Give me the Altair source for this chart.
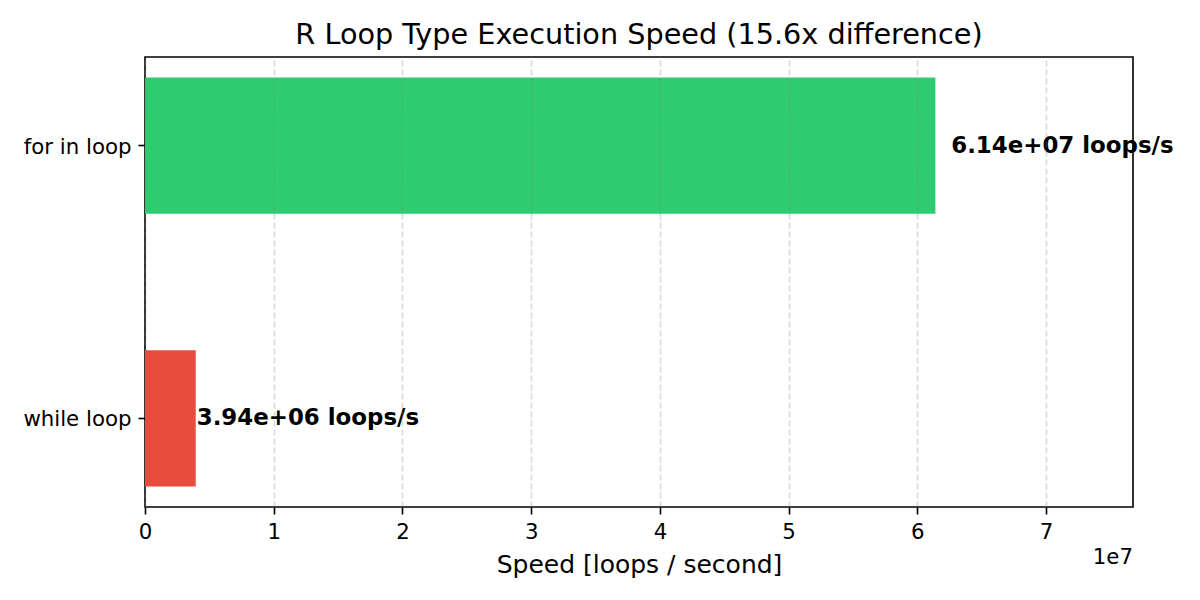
import altair as alt
import pandas as pd

categories = ["for in loop", "while loop"]
speeds = [6.14e7, 3.94e6]
labels = ["6.14e+07 loops/s", "3.94e+06 loops/s"]
colors = ["#2ecc71", "#e74c3c"]
x_ticks = [0, 1e7, 2e7, 3e7, 4e7, 5e7, 6e7, 7e7]
x_max = 7.675e7

df = pd.DataFrame({"loop": categories, "speed": speeds, "label": labels, "color": colors})

W, H = 988, 450
FONT = "DejaVu Sans"

y_enc = alt.Y("loop:N", sort=categories,
              scale=alt.Scale(paddingInner=0.5, paddingOuter=0.075),
              axis=alt.Axis(title=None, labelFontSize=21.3, labelPadding=7, tickSize=7,
                            tickWidth=1.6, tickColor="black", domain=False, grid=False,
                            labelColor="black", labelFont=FONT, labelOffset=2))

x_scale = alt.Scale(domain=[0, x_max], nice=False, zero=True)

bars = alt.Chart(df).mark_bar().encode(
    x=alt.X("speed:Q", scale=x_scale,
            axis=alt.Axis(title="Speed [loops / second]", values=x_ticks,
                          labelExpr="format(datum.value / 1e7, 'd')",
                          labelFontSize=21.3, titleFontSize=25, titleFontWeight="normal",
                          titlePadding=10, labelPadding=7, tickSize=7, tickWidth=1.6,
                          tickColor="black", domain=False, labelColor="black",
                          titleColor="black", labelFont=FONT, titleFont=FONT,
                          labelFlush=False,
                          grid=True, gridColor="#808080", gridOpacity=0.3,
                          gridDash=[6, 3], gridWidth=1.6, zindex=1)),
    y=y_enc,
    color=alt.Color("color:N", scale=None),
)

text = alt.Chart(df).transform_calculate(
    xpos="datum.speed * 1.02"
).mark_text(align="left", baseline="middle", fontWeight="bold", fontSize=22.9,
            font=FONT, color="black").encode(
    x=alt.X("xpos:Q", scale=x_scale),
    y=alt.Y("loop:N", sort=categories),
    text="label:N",
)

offset = alt.Chart(pd.DataFrame({"t": ["1e7"]})).mark_text(
    align="right", baseline="middle", fontSize=21.3, font=FONT, color="black"
).encode(x=alt.value(W), y=alt.value(H + 51), text="t:N")

chart = alt.layer(bars, text, offset).properties(
    width=W, height=H,
    title=alt.TitleParams("R Loop Type Execution Speed (15.6x difference)",
                          fontSize=28.7, font=FONT, fontWeight="normal",
                          anchor="middle", offset=7, color="black"),
    autosize="none",
    padding={"left": 145, "top": 57, "right": 67, "bottom": 93},
    background="white",
).configure_view(stroke="black", strokeWidth=1.6)

chart.save("out.html", embed_options={"renderer": "svg", "actions": False})
